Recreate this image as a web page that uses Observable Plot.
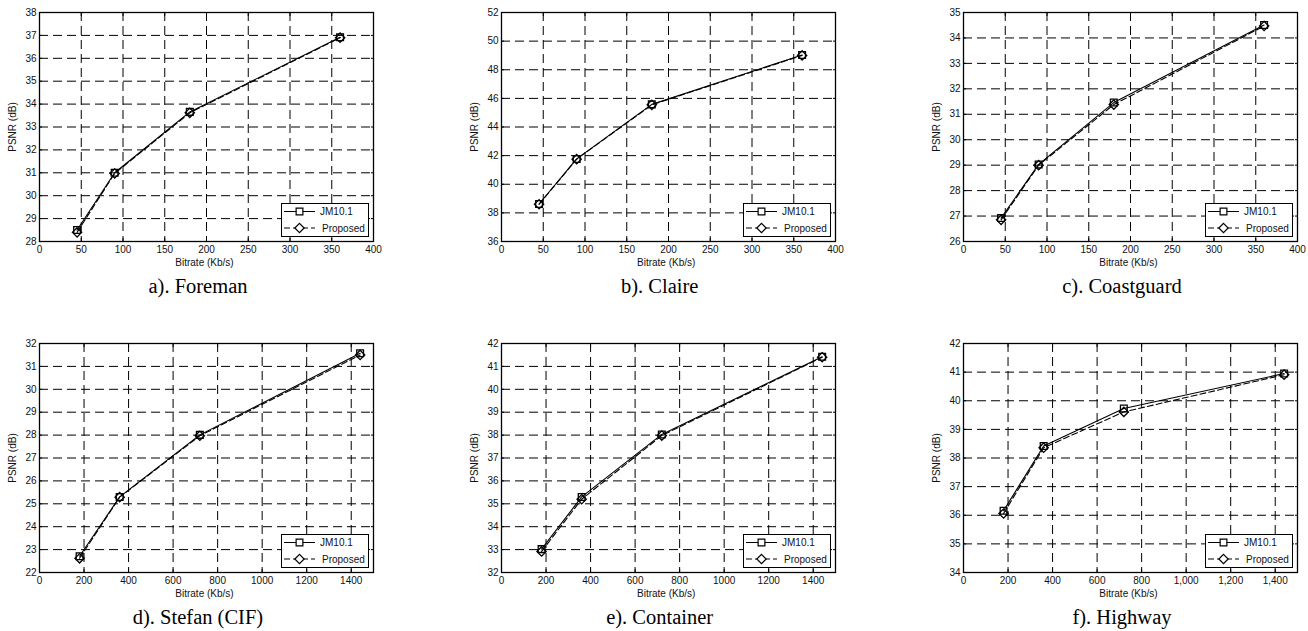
<!DOCTYPE html>
<html><head><meta charset="utf-8">
<script src="https://cdn.jsdelivr.net/npm/d3@7"></script>
<script src="https://cdn.jsdelivr.net/npm/@observablehq/plot@0.6"></script>
<style>
body{margin:0;background:#fff;}
#root{position:relative;width:1308px;height:631px;overflow:hidden;font-family:"Liberation Sans",Arial,sans-serif;color:#111;}
.psvg{position:absolute;}
.cap{position:absolute;font-family:"Liberation Serif","Times New Roman",serif;font-size:20.5px;line-height:20px;text-align:center;white-space:nowrap;color:#000;}
.xl{position:absolute;font-size:10px;line-height:12px;text-align:center;white-space:nowrap;}
.yl{position:absolute;font-size:10px;line-height:12px;white-space:nowrap;transform:translate(-50%,-50%) rotate(-90deg);}
.leg{position:absolute;border:1px solid #000;background:#fff;box-sizing:border-box;}
.leg svg{position:absolute;left:0;top:0;}
</style></head><body><div id="root"></div>
<script>
// ---- data ----
const bitrateQCIF = [45, 90, 180, 360];
const bitrateCIF = [180, 360, 720, 1440];
const foremanJM = [28.5, 31.0, 33.66, 36.92];
const foremanProposed = [28.4, 30.97, 33.62, 36.9];
const claireJM = [38.62, 41.77, 45.58, 49.03];
const claireProposed = [38.6, 41.75, 45.55, 49.0];
const coastguardJM = [26.92, 29.03, 31.46, 34.51];
const coastguardProposed = [26.85, 29.0, 31.38, 34.47];
const stefanJM = [22.71, 25.3, 28.01, 31.57];
const stefanProposed = [22.62, 25.29, 27.97, 31.5];
const containerJM = [33.02, 35.3, 38.03, 41.42];
const containerProposed = [32.92, 35.2, 37.98, 41.4];
const highwayJM = [36.16, 38.42, 39.73, 40.95];
const highwayProposed = [36.06, 38.36, 39.61, 40.91];
const seriesNames = ["JM10.1", "Proposed"];
const captions = ["a). Foreman", "b). Claire", "c). Coastguard", "d). Stefan (CIF)", "e). Container", "f). Highway"];
const xTicksQCIF = [0, 50, 100, 150, 200, 250, 300, 350, 400];
const xTicksCIF = [0, 200, 400, 600, 800, 1000, 1200, 1400];
const yTicksForeman = [28, 29, 30, 31, 32, 33, 34, 35, 36, 37, 38];
const yTicksClaire = [36, 38, 40, 42, 44, 46, 48, 50, 52];
const yTicksCoastguard = [26, 27, 28, 29, 30, 31, 32, 33, 34, 35];
const yTicksStefan = [22, 23, 24, 25, 26, 27, 28, 29, 30, 31, 32];
const yTicksContainer = [32, 33, 34, 35, 36, 37, 38, 39, 40, 41, 42];
const yTicksHighway = [34, 35, 36, 37, 38, 39, 40, 41, 42];
const xDomainQCIF = [0, 400];
const xDomainCIF = [0, 1500];
const xLabel = "Bitrate (Kb/s)";
const yLabel = "PSNR (dB)";

// ---- panels ----
const panels = [
  {x: bitrateQCIF, jm: foremanJM, pr: foremanProposed, xt: xTicksQCIF, xd: xDomainQCIF, yt: yTicksForeman, fmt: d3.format("d")},
  {x: bitrateQCIF, jm: claireJM, pr: claireProposed, xt: xTicksQCIF, xd: xDomainQCIF, yt: yTicksClaire, fmt: d3.format("d")},
  {x: bitrateQCIF, jm: coastguardJM, pr: coastguardProposed, xt: xTicksQCIF, xd: xDomainQCIF, yt: yTicksCoastguard, fmt: d3.format("d")},
  {x: bitrateCIF, jm: stefanJM, pr: stefanProposed, xt: xTicksCIF, xd: xDomainCIF, yt: yTicksStefan, fmt: d3.format("d")},
  {x: bitrateCIF, jm: containerJM, pr: containerProposed, xt: xTicksCIF, xd: xDomainCIF, yt: yTicksContainer, fmt: d3.format("d")},
  {x: bitrateCIF, jm: highwayJM, pr: highwayProposed, xt: xTicksCIF, xd: xDomainCIF, yt: yTicksHighway, fmt: d3.format(",")}
];

// layout (frame positions)
const colLeft = [39, 500.7, 963];
const rowTop = [12, 343];
const FW = 334, FH = 229;
const ML = 39, MT = 12, MR = 8, MB = 34;

const root = document.getElementById("root");
const ink = "#000";

panels.forEach((p, i) => {
  const fl = colLeft[i % 3], ft = rowTop[Math.floor(i / 3)];
  const rows = [];
  p.x.forEach((b, k) => {
    rows.push({series: seriesNames[0], bitrate: b, psnr: p.jm[k]});
    rows.push({series: seriesNames[1], bitrate: b, psnr: p.pr[k]});
  });
  const jmRows = rows.filter(d => d.series === seriesNames[0]);
  const prRows = rows.filter(d => d.series === seriesNames[1]);
  const yd = [p.yt[0], p.yt[p.yt.length - 1]];
  const blank = () => "";
  const chart = Plot.plot({
    width: ML + FW + MR, height: MT + FH + MB,
    marginLeft: ML, marginRight: MR, marginTop: MT, marginBottom: MB,
    style: {fontFamily: "'Liberation Sans', Arial, sans-serif", fontSize: "10px", color: "#111", background: "transparent", overflow: "visible"},
    x: {domain: p.xd, label: null},
    y: {domain: yd, label: null},
    marks: [
      Plot.gridX(p.xt, {stroke: ink, strokeOpacity: 1, strokeWidth: 1, strokeDasharray: "9,5"}),
      Plot.gridY(p.yt, {stroke: ink, strokeOpacity: 1, strokeWidth: 1, strokeDasharray: "9,5"}),
      Plot.axisX(p.xt, {tickSize: 0, tickPadding: 4, tickFormat: p.fmt, label: null}),
      Plot.axisY(p.yt, {tickSize: 0, tickPadding: 3, label: null}),
      Plot.axisX(p.xt, {tickSize: -3, tickFormat: blank, label: null, stroke: ink}),
      Plot.axisX(p.xt, {anchor: "top", tickSize: -3, tickFormat: blank, label: null, stroke: ink}),
      Plot.axisY(p.yt, {tickSize: -3, tickFormat: blank, label: null, stroke: ink}),
      Plot.axisY(p.yt, {anchor: "right", tickSize: -3, tickFormat: blank, label: null, stroke: ink}),
      Plot.frame({stroke: ink, strokeWidth: 1.3}),
      Plot.line(prRows, {x: "bitrate", y: "psnr", stroke: ink, strokeWidth: 1.1, strokeDasharray: "6,3"}),
      Plot.line(jmRows, {x: "bitrate", y: "psnr", stroke: ink, strokeWidth: 1.1}),
      Plot.dot(jmRows, {x: "bitrate", y: "psnr", symbol: "square2", r: 4.3, stroke: ink, strokeWidth: 1.3, fill: "none"}),
      Plot.dot(prRows, {x: "bitrate", y: "psnr", symbol: "diamond2", r: 4.2, stroke: ink, strokeWidth: 1.3, fill: "none"})
    ]
  });
  chart.classList.add("psvg");
  chart.style.left = (fl - ML) + "px";
  chart.style.top = (ft - MT) + "px";
  root.appendChild(chart);

  // axis labels
  const xl = document.createElement("div");
  xl.className = "xl"; xl.textContent = xLabel;
  xl.style.left = (fl + FW / 2 - 1.5 - 60) + "px"; xl.style.width = "120px";
  xl.style.top = (ft + FH + 16) + "px";
  root.appendChild(xl);
  const yl = document.createElement("div");
  yl.className = "yl"; yl.textContent = yLabel;
  yl.style.left = (fl - 26) + "px"; yl.style.top = (ft + FH / 2) + "px";
  root.appendChild(yl);

  // legend
  const lw = 88, lh = 34;
  const leg = document.createElement("div");
  leg.className = "leg";
  leg.style.left = (fl + FW - 4 - lw) + "px";
  leg.style.top = (ft + FH - 4 - lh) + "px";
  leg.style.width = lw + "px"; leg.style.height = lh + "px";
  const svg = d3.create("svg").attr("width", lw).attr("height", lh)
    .style("font-family", "'Liberation Sans', Arial, sans-serif").style("font-size", "10px");
  seriesNames.forEach((name, k) => {
    const cy = k === 0 ? 7.5 : 24;
    svg.append("line").attr("x1", 2).attr("x2", 33).attr("y1", cy).attr("y2", cy)
      .attr("stroke", ink).attr("stroke-width", 1).attr("stroke-dasharray", k === 0 ? null : "6,3");
    const sym = k === 0 ? d3.symbolSquare2 : d3.symbolDiamond2;
    const size = Math.PI * (k === 0 ? 4.3 : 4.2) ** 2;
    svg.append("path").attr("d", d3.symbol(sym, size)()).attr("transform", `translate(17.5,${cy})`)
      .attr("fill", "#fff").attr("stroke", ink).attr("stroke-width", 1.2);
    svg.append("text").attr("x", k === 0 ? 38 : 40).attr("y", cy).attr("dy", "0.35em").attr("fill", "#111").text(name);
  });
  leg.appendChild(svg.node());
  root.appendChild(leg);

  // caption
  const cap = document.createElement("div");
  cap.className = "cap"; cap.textContent = captions[i];
  cap.style.left = (fl + FW / 2 - 8 - 100) + "px"; cap.style.width = "200px";
  cap.style.top = (ft + FH + 35) + "px";
  root.appendChild(cap);
});
</script></body></html>
